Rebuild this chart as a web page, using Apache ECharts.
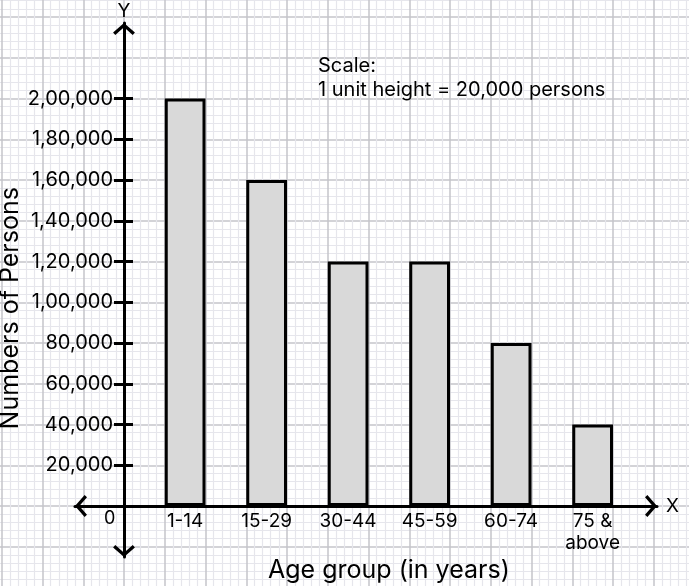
<!DOCTYPE html>
<html>
<head>
<meta charset="utf-8">
<script src="https://cdn.jsdelivr.net/npm/echarts@6/dist/echarts.min.js"></script>
<style>
  html, body { margin: 0; padding: 0; background: #fff; }
  #main { width: 689px; height: 586px; }
</style>
</head>
<body>
<div id="main"></div>
<script>
'use strict';

var ageGroups = ['1-14', '15-29', '30-44', '45-59', '60-74', '75 &\nabove'];
var persons = [200000, 160000, 120000, 120000, 80000, 40000];
var yTickLabels = ['0', '20,000', '40,000', '60,000', '80,000', '1,00,000',
  '1,20,000', '1,40,000', '1,60,000', '1,80,000', '2,00,000'];

var U = 40.75;          // one big square of the graph paper
var ox = 124, oy = 506; // origin
var font = 'Inter';

// open chevron, pointing up
var chevron = 'path://M0,44 L50,0 L100,44 L90,55 L50,20 L10,55 Z';

var myChart = echarts.init(document.getElementById('main'));

var option = {
  backgroundColor: '#fff',
  animation: false,
  textStyle: { fontFamily: font, color: '#000' },
  grid: [
    // graph paper
    { left: ox - 4 * U, top: oy - 13 * U, width: 18 * U, height: 15 * U, outerBoundsMode: 'none', containLabel: false },
    // arrows of the axes
    { left: 75, top: 23, width: 582, height: 534, outerBoundsMode: 'none', containLabel: false },
    // bars
    { left: ox + 0.5 * U, top: oy - 10 * U, width: 12 * U, height: 10 * U, outerBoundsMode: 'none', containLabel: false }
  ],
  xAxis: [
    {
      gridIndex: 0, type: 'value', min: -4, max: 14, interval: 1,
      axisLine: { show: false }, axisTick: { show: false }, axisLabel: { show: false },
      splitLine: { show: true, lineStyle: { color: '#c4c4ca', width: 1.5 } },
      minorTick: { show: false, splitNumber: 5 },
      minorSplitLine: { show: true, lineStyle: { color: '#e6e6ec', width: 1.2 } }
    },
    {
      gridIndex: 1, type: 'value', min: -49, max: 533,
      axisLine: {
        show: true, onZero: true,
        lineStyle: { color: '#000', width: 3 },
        symbol: [chevron, chevron], symbolSize: [22, 12], symbolOffset: [6, -6]
      },
      axisTick: { show: false }, axisLabel: { show: false }, splitLine: { show: false },
      name: 'X', nameLocation: 'end', nameGap: 9,
      nameTextStyle: { fontFamily: font, fontSize: 19, color: '#000' }
    },
    {
      gridIndex: 2, type: 'category', data: ageGroups,
      axisLine: { show: false }, axisTick: { show: false },
      axisLabel: { fontFamily: font, fontSize: 19, color: '#000', margin: 4, lineHeight: 22 },
      name: 'Age group (in years)', nameLocation: 'middle', nameGap: 52, nameMoveOverlap: false,
      nameTextStyle: { fontFamily: font, fontSize: 25, color: '#000' }
    }
  ],
  yAxis: [
    {
      gridIndex: 0, type: 'value', min: -2, max: 13, interval: 1,
      axisLine: { show: false }, axisTick: { show: false }, axisLabel: { show: false },
      splitLine: { show: true, lineStyle: { color: '#c4c4ca', width: 1.5 } },
      minorTick: { show: false, splitNumber: 5 },
      minorSplitLine: { show: true, lineStyle: { color: '#e6e6ec', width: 1.2 } }
    },
    {
      gridIndex: 1, type: 'value', min: -51, max: 483,
      axisLine: {
        show: true, onZero: true,
        lineStyle: { color: '#000', width: 3 },
        symbol: [chevron, chevron], symbolSize: [22, 12], symbolOffset: [6, -6]
      },
      axisTick: { show: false }, axisLabel: { show: false }, splitLine: { show: false },
      name: 'Y', nameLocation: 'end', nameGap: 2,
      nameTextStyle: { fontFamily: font, fontSize: 19, color: '#000' }
    },
    {
      gridIndex: 2, type: 'value', position: 'left', offset: 0.5 * U,
      min: 0, max: 200000, interval: 20000,
      axisLine: { show: false },
      axisTick: { show: true, length: 10, lineStyle: { color: '#000', width: 3 } },
      axisLabel: {
        fontFamily: font, fontSize: 20, color: '#000', margin: 11,
        formatter: function (v) { return v === 0 ? '' : yTickLabels[Math.round(v / 20000)]; }
      },
      splitLine: { show: false },
      name: 'Numbers of Persons', nameLocation: 'middle', nameGap: 101, nameMoveOverlap: false,
      nameTextStyle: { fontFamily: font, fontSize: 25, color: '#000', padding: [0, 12, 0, 0] }
    },
    {
      gridIndex: 2, type: 'value', position: 'left', offset: 0.5 * U,
      min: 0, max: 200000, interval: 20000,
      axisLine: { show: false },
      axisTick: { show: true, inside: true, length: 9, lineStyle: { color: '#000', width: 3 } },
      axisLabel: { show: false }, splitLine: { show: false }
    }
  ],
  series: [
    {
      type: 'bar', xAxisIndex: 2, yAxisIndex: 2,
      data: persons, barWidth: '50%',
      itemStyle: { color: '#d9d9d9', borderColor: '#000', borderWidth: 3 },
      z: 3
    }
  ],
  graphic: [
    {
      type: 'text', left: 318, top: 54, z: 10,
      style: {
        text: 'Scale:\n1 unit height = 20,000 persons',
        font: '20px Inter', fill: '#000', lineHeight: 24
      }
    },
    {
      type: 'text', left: 104, top: 510, z: 10,
      style: { text: '0', font: '18px Inter', fill: '#000' }
    }
  ]
};

myChart.setOption(option);
</script>
</body>
</html>
